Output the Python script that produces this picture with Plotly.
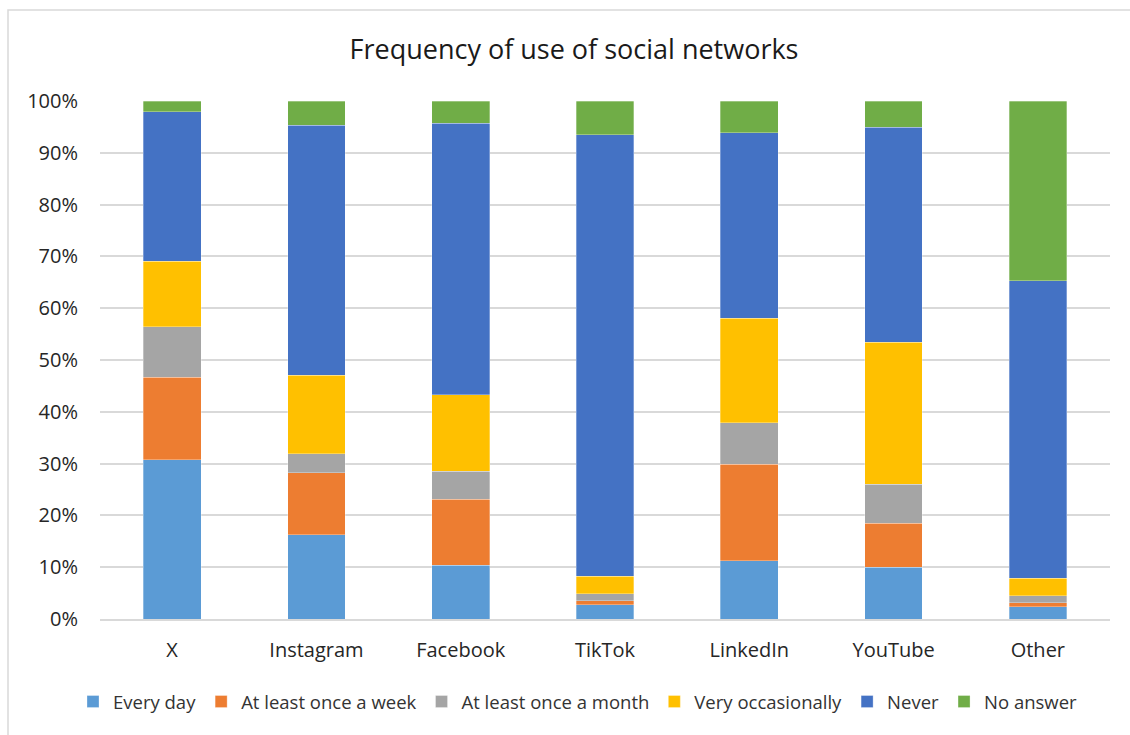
import plotly.graph_objects as go

categories = ["X", "Instagram", "Facebook", "TikTok", "LinkedIn", "YouTube", "Other"]
every_day = [30.7, 16.3, 10.4, 2.8, 11.2, 10.0, 2.4]
once_week = [16.0, 11.9, 12.7, 0.7, 18.7, 8.5, 0.7]
once_month = [9.7, 3.7, 5.4, 1.4, 8.0, 7.5, 1.4]
very_occasionally = [12.7, 15.2, 14.8, 3.4, 20.2, 27.4, 3.4]
never = [28.8, 48.2, 52.4, 85.2, 35.8, 41.5, 57.4]
no_answer = [2.1, 4.7, 4.3, 6.5, 6.1, 5.1, 34.7]

series_names = ["Every day", "At least once a week", "At least once a month",
                "Very occasionally", "Never", "No answer"]
series_values = [every_day, once_week, once_month, very_occasionally, never, no_answer]
colors = ["#5B9BD5", "#ED7D31", "#A5A5A5", "#FFC000", "#4472C4", "#70AD47"]

font_family = "Open Sans"

fig = go.Figure()
for name, vals, col in zip(series_names, series_values, colors):
    fig.add_trace(go.Bar(
        x=categories, y=vals, name=name,
        marker=dict(color=col, line=dict(color="rgba(255,255,255,0.6)", width=0.5)),
    ))

fig.update_layout(
    barmode="stack",
    bargap=0.6,
    width=1130, height=735,
    margin=dict(l=100, r=20, t=101, b=116, autoexpand=False),
    paper_bgcolor="white", plot_bgcolor="white",
    font=dict(family=font_family, size=19, color="#404040"),
    title=dict(text="Frequency of use of social networks", x=574 / 1130, xref="container",
               xanchor="center", y=1 - 50 / 735, yref="container", yanchor="middle",
               font=dict(family=font_family, size=27, color="#1a1a1a")),
    legend=dict(orientation="h", x=578 / 1130, xref="container", xanchor="center",
                y=1 - 702 / 735, yref="container", yanchor="middle",
                font=dict(family=font_family, size=18.5, color="#333333"),
                traceorder="normal", itemwidth=30),
    showlegend=True,
)
fig.update_yaxes(range=[0, 100], dtick=10, ticksuffix="%", showgrid=True,
                 gridcolor="#D9D9D9", gridwidth=1.5, zeroline=False, showline=False,
                 ticklabelstandoff=21, tickfont=dict(size=20, color="#262626"))
fig.update_xaxes(showline=True, linecolor="#D9D9D9", linewidth=1.5, ticks="",
                 tickangle=0, ticklabelstandoff=12, tickfont=dict(size=20, color="#262626"))

fig.add_shape(type="rect", xref="paper", yref="paper",
              x0=(8 - 100) / 1010, x1=(1140 - 100) / 1010,
              y0=(619 - 745) / 518, y1=(619 - 10) / 518,
              line=dict(color="#D9D9D9", width=1.5), layer="below")

fig.write_html("out.html")
